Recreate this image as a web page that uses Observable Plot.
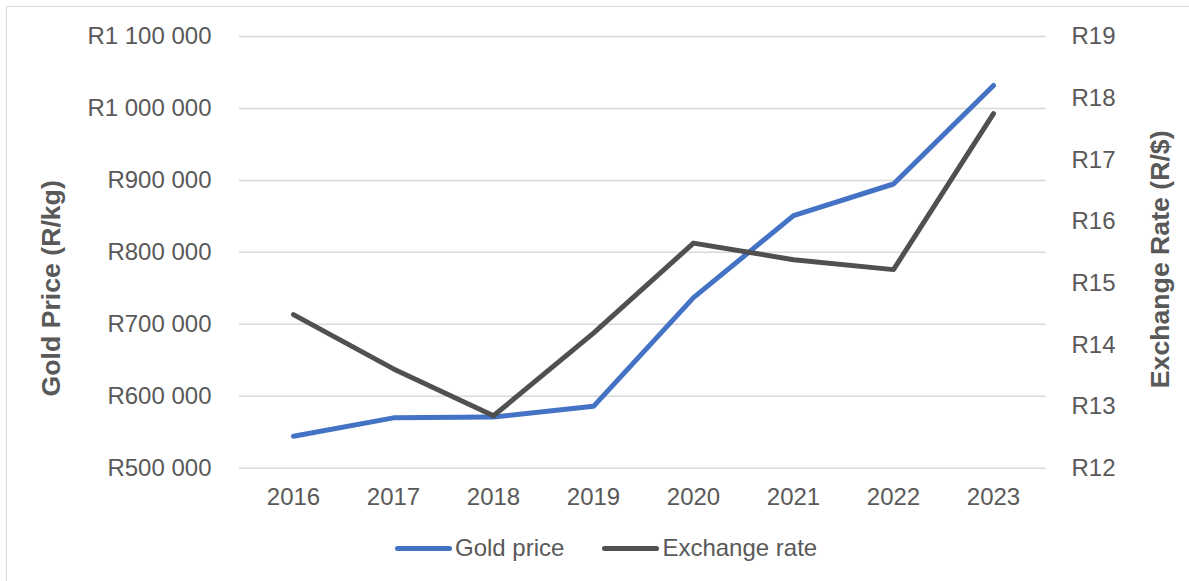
<!DOCTYPE html>
<html><head><meta charset="utf-8">
<script src="https://cdn.jsdelivr.net/npm/d3@7"></script>
<script src="https://cdn.jsdelivr.net/npm/@observablehq/plot@0.6"></script>
<style>
html,body{margin:0;padding:0;background:#fff;overflow:hidden;}
#wrap{position:relative;width:1189px;height:581px;overflow:hidden;font-family:"Liberation Sans",Arial,sans-serif;}
#frame{position:absolute;left:6px;top:6px;width:1300px;height:700px;border:1px solid #d9d9d9;box-sizing:border-box}
#chart{position:absolute;left:0;top:0}
#legend{position:absolute;left:395px;top:536px;height:24px;display:flex;align-items:center;font-size:24px;line-height:24px;color:#595959;white-space:nowrap}
.sw{width:57px;height:5px;border-radius:3px;margin-right:3px}
.item{display:flex;align-items:center}
</style></head><body>
<div id="wrap"><div id="frame"></div><div id="chart"></div><div id="legend"></div></div>
<script>
const years = ["2016","2017","2018","2019","2020","2021","2022","2023"];
const goldPrice = [544500, 570000, 571000, 586000, 737000, 851000, 895000, 1032000];
const exchangeRate = [14.49, 13.61, 12.85, 14.19, 15.65, 15.38, 15.22, 17.75];
const goldTicks = [500000, 600000, 700000, 800000, 900000, 1000000, 1100000];
const rateTicks = [12, 13, 14, 15, 16, 17, 18, 19];
const seriesNames = ["Gold price", "Exchange rate"];
const seriesColors = ["#4472C4", "#505050"];
const axisTitles = ["Gold Price (R/kg)", "Exchange Rate (R/$)"];

const gMin = 500000, gMax = 1100000, rMin = 12, rMax = 19;
const toGold = r => gMin + (r - rMin) * (gMax - gMin) / (rMax - rMin);
const toRate = g => rMin + (g - gMin) * (rMax - rMin) / (gMax - gMin);
const fmtR = d => "R" + d3.format(",")(d).replace(/,/g, " ");

const goldData = years.map((year, i) => ({year, value: goldPrice[i]}));
const rateData = years.map((year, i) => ({year, value: toGold(exchangeRate[i])}));

const textColor = "#595959";
const plot = Plot.plot({
  width: 1189, height: 520,
  marginTop: 36, marginBottom: 52.3, marginLeft: 239, marginRight: 143,
  style: {fontFamily: "Liberation Sans, Arial, sans-serif", fontSize: "24px", color: textColor, background: "transparent", overflow: "visible"},
  x: {type: "point", domain: years, padding: 0.5},
  y: {domain: [gMin, gMax]},
  marks: [
    Plot.gridY(goldTicks, {stroke: "#d9d9d9", strokeOpacity: 1, strokeWidth: 1.5}),
    Plot.axisX({tickSize: 0, tickPadding: 20, fontSize: 24, label: null, fill: textColor}),
    Plot.axisY(goldTicks, {anchor: "left", tickSize: 0, tickPadding: 28, tickFormat: fmtR, label: null, fontSize: 24, fill: textColor}),
    Plot.axisY(rateTicks.map(toGold), {anchor: "right", tickSize: 0, tickPadding: 25, tickFormat: d => "R" + Math.round(toRate(d)), label: null, fontSize: 24, fill: textColor}),
    Plot.line(goldData, {x: "year", y: "value", stroke: seriesColors[0], strokeWidth: 5, strokeLinecap: "round", strokeLinejoin: "round"}),
    Plot.line(rateData, {x: "year", y: "value", stroke: seriesColors[1], strokeWidth: 5, strokeLinecap: "round", strokeLinejoin: "round"}),
    Plot.text([axisTitles[0]], {text: d => d, frameAnchor: "left", dx: -188, dy: 36, rotate: -90, textAnchor: "middle", lineAnchor: "middle", fontWeight: "bold", fontSize: 26.67, fill: textColor}),
    Plot.text([axisTitles[1]], {text: d => d, frameAnchor: "right", dx: 114, dy: 7, rotate: -90, textAnchor: "middle", lineAnchor: "middle", fontWeight: "bold", fontSize: 26.67, fill: textColor})
  ]
});
document.getElementById("chart").appendChild(plot);

const legend = document.getElementById("legend");
seriesNames.forEach((name, i) => {
  const item = document.createElement("div");
  item.className = "item";
  if (i > 0) item.style.marginLeft = "38px";
  const sw = document.createElement("div");
  sw.className = "sw";
  sw.style.background = seriesColors[i];
  const label = document.createElement("span");
  label.textContent = name;
  item.appendChild(sw);
  item.appendChild(label);
  legend.appendChild(item);
});
</script>
</body></html>
